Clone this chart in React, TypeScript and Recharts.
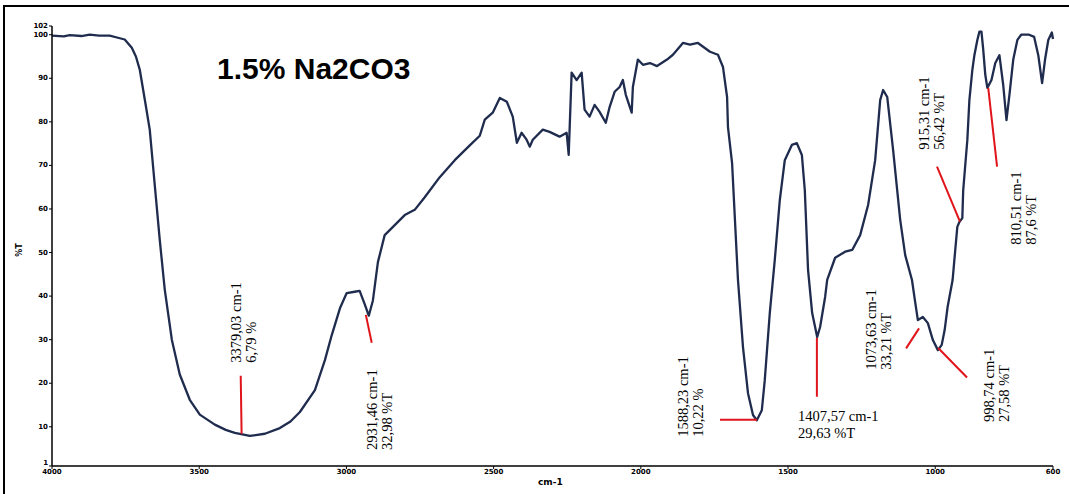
import { LineChart, Line, XAxis, YAxis, ReferenceLine, ReferenceDot } from "recharts";

// FTIR spectrum, wavenumber (cm-1) vs transmittance (%T)
const wavenumbers = [
  4000, 3960, 3940, 3900, 3872, 3840, 3804, 3776, 3753, 3729, 3715, 3702, 3685, 3668, 3651, 3634,
  3617, 3593, 3566, 3532, 3498, 3447, 3410, 3379, 3328, 3277, 3226, 3190, 3158, 3107, 3073, 3050,
  3022, 2999, 2972, 2955, 2937, 2924, 2910, 2893, 2870, 2836, 2802, 2768, 2734, 2683, 2632, 2581,
  2547, 2530, 2503, 2479, 2455, 2435, 2421, 2405, 2388, 2377, 2367, 2333, 2310, 2276, 2252, 2245,
  2235, 2218, 2201, 2191, 2174, 2157, 2140, 2119, 2106, 2089, 2072, 2061, 2051, 2031, 2027, 2010,
  1993, 1969, 1945, 1911, 1891, 1857, 1833, 1806, 1765, 1738, 1721, 1707, 1704, 1690, 1670, 1653,
  1636, 1619, 1606, 1589, 1579, 1562, 1545, 1528, 1511, 1487, 1470, 1453, 1443, 1432, 1418, 1401,
  1391, 1374, 1367, 1340, 1306, 1282, 1255, 1228, 1204, 1187, 1177, 1163, 1143, 1119, 1102, 1079,
  1069, 1059, 1042, 1025, 1008, 991, 978, 968, 958, 941, 935, 925, 918, 908, 905, 898,
  891, 884, 874, 867, 857, 850, 843, 837, 830, 823, 809, 796, 782, 769, 758, 748,
  735, 721, 708, 681, 664, 650, 637, 627, 616, 604, 600,
];

const transmittance = [
  99.8, 99.6, 99.9, 99.7, 100, 99.8, 99.8, 99.3, 98.9, 97, 95, 92, 85.2, 78.2, 65.5, 52.9,
  41.5, 30, 22, 16.2, 12.8, 10.5, 9.3, 8.6, 7.9, 8.4, 9.7, 11.2, 13.4, 18.4, 25.3, 31,
  37.2, 40.7, 41, 41.2, 38, 35.5, 39, 47.8, 54, 56.3, 58.6, 59.8, 62.7, 67.3, 71.2, 74.6,
  76.8, 80.5, 82.1, 85.5, 84.6, 81.2, 75.2, 77.5, 75.9, 74.3, 75.9, 78.2, 77.7, 76.6, 77.5, 72.4,
  91.3, 89.6, 91.3, 82.8, 81.2, 83.9, 82.3, 79.8, 83.4, 86.9, 88, 89.6, 86.2, 82.1, 88, 94.3,
  93.1, 93.5, 92.8, 94.3, 95.4, 98.1, 97.7, 98.1, 96.1, 95.4, 92.6, 85.7, 78.8, 70.5, 43.7, 28.3,
  17.7, 12.7, 11.5, 13.8, 20.7, 36.1, 48.3, 62, 71.2, 74.7, 75.1, 72.4, 64.3, 46, 36.1, 30.6,
  32.9, 39.8, 43.7, 48.8, 50.2, 50.6, 54, 60.9, 71.2, 85, 87.3, 85.7, 73.5, 57.5, 49.4, 43.7,
  39, 34.5, 35.2, 33.8, 29.9, 27.6, 28.8, 32.2, 37.5, 43.7, 48.3, 55.9, 57, 57.9, 64.3, 70.1,
  75.8, 85, 91.9, 95.3, 98.8, 100.7, 100.7, 96.6, 90.8, 87.8, 89.6, 93.5, 95.3, 88.4, 80.4, 86.2,
  94.3, 98.8, 100, 100, 99.5, 95.3, 88.9, 94.3, 98.8, 100.5, 99,
];

const xTicks = [4000, 3500, 3000, 2500, 2000, 1500, 1000, 600];
const yTicks = [1, 10, 20, 30, 40, 50, 60, 70, 80, 90, 100, 102];

// peak annotation texts
const peakTexts = [
  ["3379,03 cm-1", "6,79 %"],
  ["2931,46 cm-1", "32,98 %T"],
  ["1588,23 cm-1", "10,22 %"],
  ["1407,57 cm-1", "29,63 %T"],
  ["1073,63 cm-1", "33,21 %T"],
  ["998,74 cm-1", "27,58 %T"],
  ["915,31 cm-1", "56,42 %T"],
  ["810,51 cm-1", "87,6 %T"],
];

// where each annotation text starts (wavenumber, %T)
const peakTextAnchors = [
  { wn: 3376, t: 24.7, vertical: true },
  { wn: 2913, t: 4.7, vertical: true },
  { wn: 1857, t: 7.7, vertical: true },
  { wn: 1466, t: 11.4, vertical: false },
  { wn: 1218, t: 23.1, vertical: true },
  { wn: 817, t: 11.1, vertical: true },
  { wn: 1038, t: 73.6, vertical: true },
  { wn: 725, t: 51.8, vertical: true },
];

// red leader lines [wn1, t1, wn2, t2]
const leaderLines = [
  [3359, 21.7, 3356, 8.4],
  [2934, 35.7, 2914, 29.3],
  [1731, 11.6, 1605, 11.6],
  [1402, 30.4, 1402, 16.9],
  [1099, 28, 1055, 32.6],
  [990, 28.1, 892, 21.3],
  [994, 69.7, 916, 57.1],
  [820, 87.8, 790, 69.7],
];

const spectrum = wavenumbers.map((wn, i) => ({ wn, t: transmittance[i] }));

const LINE_COLOR = "#1f2c4e";
const RED = "#e0141b";
const tickStyle = { fontSize: 7, fontWeight: 700, fontFamily: "DejaVu Sans", fill: "#000" };

function PeakText({ cx, cy, lines, vertical }: { cx: number; cy: number; lines: string[]; vertical: boolean }) {
  return (
    <g>
      {lines.map((line, i) => {
        if (vertical) {
          const x = cx + i * 15;
          return (
            <text
              key={i}
              x={x}
              y={cy}
              transform={`rotate(-90 ${x} ${cy})`}
              dominantBaseline="central"
              fontFamily="Liberation Serif"
              fontSize={14.5}
              fill="#000"
            >
              {line}
            </text>
          );
        }
        return (
          <text key={i} x={cx} y={cy + i * 17} fontFamily="Liberation Serif" fontSize={14.5} fill="#000">
            {line}
          </text>
        );
      })}
    </g>
  );
}

// y tick: the bottom "1" sits a little higher so it clears "4000"
function YTick(props: any) {
  const { x, y, payload } = props;
  const shift = payload.value === 1 ? -3 : 0;
  return (
    <text x={x} y={y + shift} textAnchor="end" dominantBaseline="central" {...tickStyle}>
      {payload.value}
    </text>
  );
}

export default function App() {
  return (
    <div style={{ position: "absolute", left: 0, top: 0, width: 1069, height: 494, background: "#fff" }}>
      <div
        style={{
          position: "absolute",
          left: 3,
          top: 5,
          width: 1066,
          height: 489,
          borderLeft: "2px solid #000",
          borderTop: "2px solid #000",
          boxSizing: "border-box",
        }}
      />
      <LineChart
        width={1069}
        height={494}
        data={spectrum}
        margin={{ top: 26, right: 16, bottom: 0, left: 0 }}
      >
        <XAxis
          dataKey="wn"
          type="number"
          domain={[600, 4000]}
          reversed
          ticks={xTicks}
          interval={0}
          tick={tickStyle}
          tickSize={3}
          tickMargin={0}
          height={28}
          axisLine={{ stroke: "#000", strokeWidth: 1.5 }}
          tickLine={{ stroke: "#000" }}
        />
        <YAxis
          type="number"
          domain={[1, 102]}
          ticks={yTicks}
          interval={0}
          tick={<YTick />}
          tickSize={3}
          tickMargin={1}
          width={52}
          axisLine={{ stroke: "#000", strokeWidth: 1.5 }}
          tickLine={{ stroke: "#000" }}
        />
        <Line
          dataKey="t"
          type="linear"
          stroke={LINE_COLOR}
          strokeWidth={2.3}
          strokeLinejoin="round"
          dot={false}
          isAnimationActive={false}
        />
        {leaderLines.map(([x1, y1, x2, y2], i) => (
          <ReferenceLine
            key={`l${i}`}
            segment={[
              { x: x1, y: y1 },
              { x: x2, y: y2 },
            ]}
            stroke={RED}
            strokeWidth={2}
          />
        ))}
        {peakTextAnchors.map((a, i) => (
          <ReferenceDot
            key={`t${i}`}
            x={a.wn}
            y={a.t}
            r={0}
            shape={(p: any) => <PeakText cx={p.cx} cy={p.cy} lines={peakTexts[i]} vertical={a.vertical} />}
          />
        ))}
      </LineChart>
      <div
        style={{
          position: "absolute",
          left: 217,
          top: 54,
          fontFamily: "Liberation Sans",
          fontWeight: 700,
          fontSize: 30,
          lineHeight: "30px",
          color: "#000",
          whiteSpace: "nowrap",
        }}
      >
        1.5% Na2CO3
      </div>
      <div
        style={{
          position: "absolute",
          left: 538,
          top: 477,
          fontFamily: "DejaVu Sans",
          fontWeight: 700,
          fontSize: 9,
          color: "#000",
        }}
      >
        cm-1
      </div>
      <div
        style={{
          position: "absolute",
          left: 19,
          top: 250,
          transform: "translate(-50%, -50%) rotate(-90deg)",
          fontFamily: "DejaVu Sans",
          fontWeight: 700,
          fontSize: 8,
          color: "#000",
        }}
      >
        %T
      </div>
    </div>
  );
}
